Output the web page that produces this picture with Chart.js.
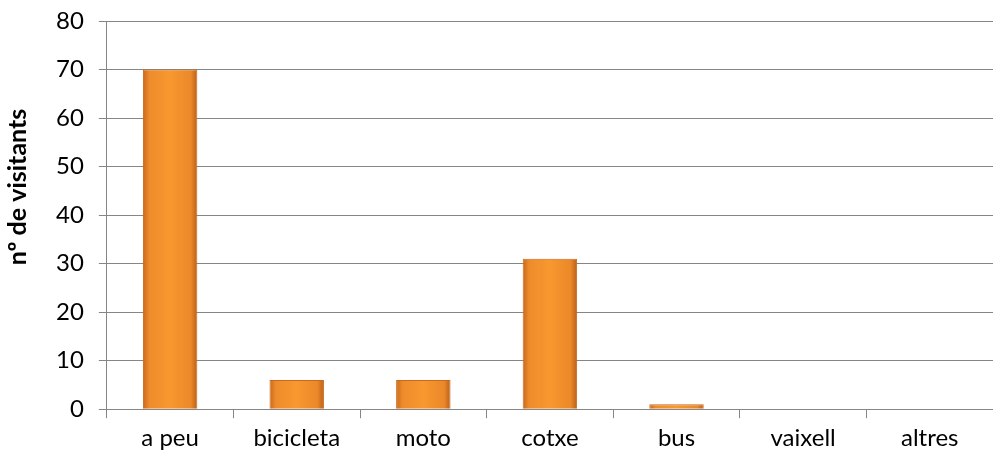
<!DOCTYPE html>
<html>
<head>
<meta charset="utf-8">
<script src="https://cdn.jsdelivr.net/npm/chart.js@4"></script>
<style>
  html, body { margin: 0; padding: 0; background: #fff; }
  #wrap { width: 993px; height: 461px; }
</style>
</head>
<body>
<div id="wrap"><canvas id="visitChart"></canvas></div>
<script>
// ─── Data ────────────────────────────────────────────────────────────────
const categories = ['a peu', 'bicicleta', 'moto', 'cotxe', 'bus', 'vaixell', 'altres'];
const visitants = [70, 6, 6, 31, 1, 0, 0];
const yTicks = [0, 10, 20, 30, 40, 50, 60, 70, 80];

const FONT = 'Lato, "Open Sans", sans-serif';
const GRID = '#868686';
const BAR_PCT = 0.43;

// horizontal gradient per bar, darker at the sides like the bevelled Excel bars
function barFill(ctx) {
    const chart = ctx.chart;
    const xs = chart.scales && chart.scales.x;
    if (!xs || !xs.width || ctx.dataIndex === undefined) return '#f7962f';
    const cx = xs.getPixelForValue(ctx.dataIndex);
    const w = xs.width / categories.length * BAR_PCT;
    const g = chart.ctx.createLinearGradient(cx - w / 2, 0, cx + w / 2, 0);
    g.addColorStop(0, '#c9691c');
    g.addColorStop(0.12, '#ee8c2c');
    g.addColorStop(0.5, '#f8982f');
    g.addColorStop(0.88, '#eb8829');
    g.addColorStop(1, '#b95f17');
    return g;
}

new Chart(document.getElementById('visitChart'), {
    type: 'bar',
    data: {
        labels: categories,
        datasets: [{
            label: 'nº de visitants',
            data: visitants,
            backgroundColor: barFill,
            borderColor: '#c8691c',
            borderWidth: 1,
            barPercentage: BAR_PCT,
            categoryPercentage: 1.0,
        }]
    },
    options: {
        responsive: true,
        maintainAspectRatio: false,
        animation: false,
        layout: { padding: { top: 6, right: 0, left: 3, bottom: 2 } },
        plugins: {
            legend: { display: false },
            tooltip: { enabled: false }
        },
        scales: {
            y: {
                min: 0,
                max: 80,
                afterBuildTicks: function (axis) {
                    axis.ticks = yTicks.map(function (v) { return { value: v }; });
                },
                ticks: { color: '#000', font: { family: FONT, size: 24, lineHeight: 0.5 }, padding: 15 },
                grid: { color: GRID, lineWidth: 1, tickLength: 8 },
                border: { color: GRID, width: 1 },
                title: {
                    display: true,
                    // leading em spaces lift the title above the centre, as in the original
                    text: '\u2003\u2003\u2003nº de visitants',
                    color: '#000',
                    font: { family: FONT, size: 25, weight: 'bold' },
                    padding: { top: 0, bottom: 8 }
                }
            },
            x: {
                ticks: { color: '#000', font: { family: FONT, size: 24 }, padding: 6 },
                grid: { color: GRID, drawOnChartArea: false, tickLength: 9, offset: true },
                border: { color: GRID, width: 1 }
            }
        }
    }
});
</script>
</body>
</html>
